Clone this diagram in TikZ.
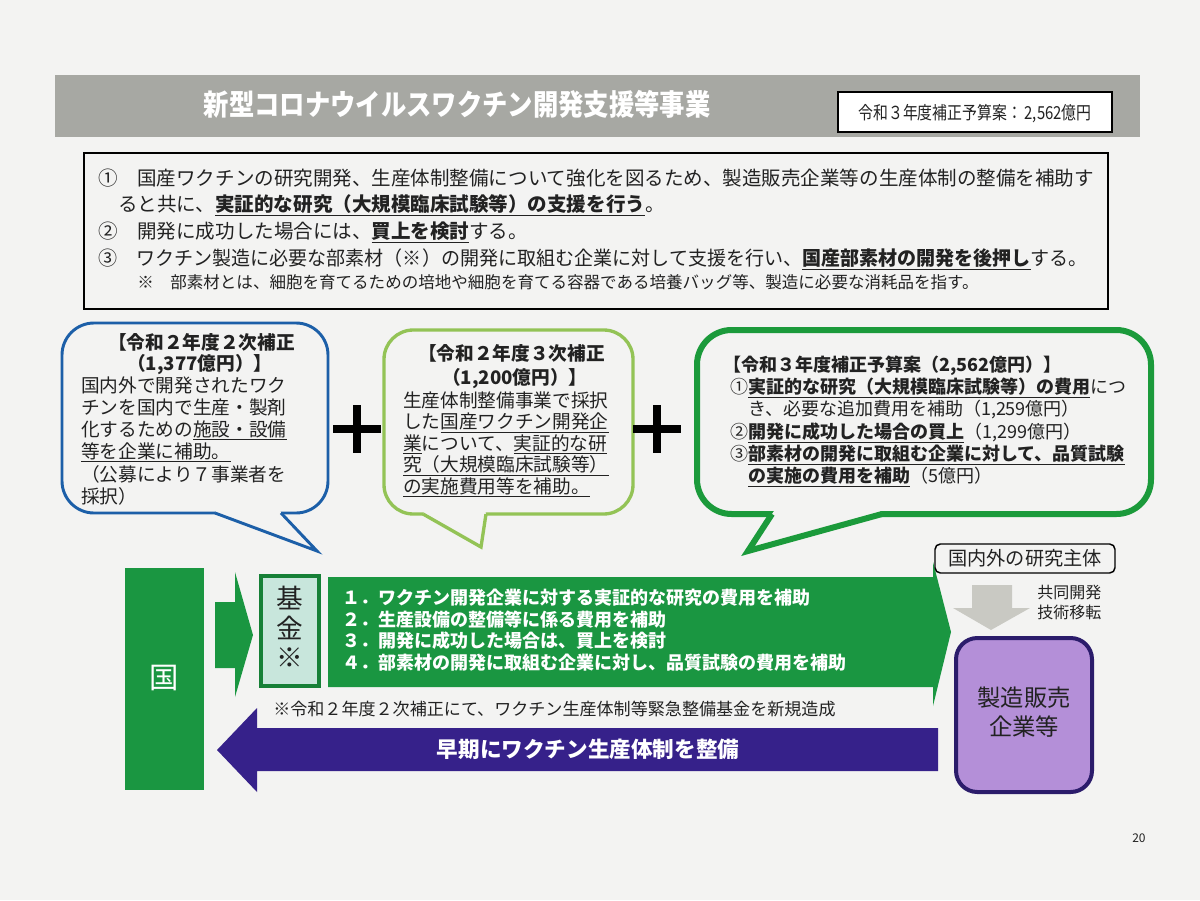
\documentclass[tikz,border=0pt]{standalone}
\usepackage{fontspec}
\setmainfont{Noto Sans CJK JP}
\definecolor{paper}{HTML}{F3F3F2}
\definecolor{titlegray}{HTML}{A7A8A3}
\definecolor{bblue}{HTML}{1C5FA8}
\definecolor{lgreen}{HTML}{93C356}
\definecolor{dgreen}{HTML}{1B9A3B}
\definecolor{agreen}{HTML}{1A9641}
\definecolor{mint}{HTML}{C8E6DC}
\definecolor{indigo}{HTML}{36218A}
\definecolor{lav}{HTML}{B48FD8}
\definecolor{lavdark}{HTML}{2B1C6B}
\definecolor{arrowgray}{HTML}{C9C9C3}
\definecolor{ink}{HTML}{222222}
\newcommand\ulbf[1]{\underline{\textbf{#1}}}
\newcommand\ulnm[1]{\underline{#1}}
\tikzset{
  T/.style={font=\fontsize{#1}{#1}\selectfont, inner sep=0pt, anchor=base west, yshift={-0.38*#1pt}, text=ink},
  TC/.style={T=#1, anchor=base},
  bub/.style={line width=#1, line join=miter},
}
\begin{document}
\begin{tikzpicture}[x=0.75pt,y=-0.75pt]
\useasboundingbox (0,0) rectangle (1200,900);
\fill[paper] (0,0) rectangle (1200,900);

% title bar
\fill[titlegray] (55,75) rectangle (1140,137);
\node[TC=19, text=white] (title) at (457,106) {\scalebox{1}[1.15]{\bfseries 新型コロナウイルスワクチン開発支援等事業}};
\draw[black, line width=1.2pt, fill=white] (838,92) rectangle (1112,132);
\node[TC=12] (budget) at (975,113) {\scalebox{0.93}[1.12]{令和３年度補正予算案：\,2,562億円}};

% top box
\draw[black, line width=1.6pt] (84,153) rectangle (1108,309);
\node[T=14.65] (l1) at (98,178) {①　国産ワクチンの研究開発、生産体制整備について強化を図るため、製造販売企業等の生産体制の整備を補助す};
\node[T=14.65] (l2) at (118,204) {ると共に、\ulbf{実証的な研究（大規模臨床試験等）の支援を行う}。};
\node[T=14.65] (l3) at (98,231) {②　開発に成功した場合には、\ulbf{買上を検討}する。};
\node[T=14.65] (l4) at (98,258) {\scalebox{0.975}[1]{③　ワクチン製造に必要な部素材（※）の開発に取組む企業に対して支援を行い、\ulbf{国産部素材の開発を後押し}する。}};
\node[T=12.4] (l5) at (137,282) {※　部素材とは、細胞を育てるための培地や細胞を育てる容器である培養バッグ等、製造に必要な消耗品を指す。};

% left bubble
\draw[bblue, bub=2.2pt, rounded corners=24pt] (62,323) rectangle (328,513);
\fill[paper] (217,509) -- (280,509) -- (281,513) -- (317,551) -- (215,513) -- cycle;
\draw[bblue, bub=2.2pt] (215,513) -- (317,551) -- (281,513);
\node[T=14] (hb1) at (108,342) {\textbf{【令和２年度２次補正}};
\node[T=14] (hb2) at (127,363) {\textbf{（1,377億円）】}};
\node[T=14] (b1) at (81,385) {国内外で開発されたワク};
\node[T=14] (b2) at (81,407) {チンを国内で生産・製剤};
\node[T=14] (b3) at (81,429) {化するための\ulnm{施設・設備}};
\node[T=14] (b4) at (81,451) {\ulnm{等を企業に補助。}};
\node[T=14] (b5) at (81,474) {（公募により７事業者を};
\node[T=14] (b6) at (81,496) {採択）};

% plus 1
\draw[black, line width=6pt] (333,429) -- (381,429);
\draw[black, line width=6pt] (357,405) -- (357,453);

% middle bubble
\draw[lgreen, bub=2.5pt, rounded corners=22pt] (384,330) rectangle (633,514);
\fill[paper] (425,510) -- (485,510) -- (486,514) -- (481,547) -- (423,514) -- cycle;
\draw[lgreen, bub=2.5pt] (423,514) -- (481,547) -- (486,514);
\node[T=14] (m0) at (418,353) {\textbf{【令和２年度３次補正}};
\node[T=14] (m0b) at (442,377) {\textbf{（1,200億円）】}};
\node[T=14] (m1) at (403,400) {生産体制整備事業で採択};
\node[T=14] (m2) at (403,421.5) {した\ulnm{国産ワクチン開発企}};
\node[T=14] (m3) at (403,443) {\ulnm{業}について、\ulnm{実証的な研}};
\node[T=14] (m4) at (403,464.5) {\ulnm{究（大規模臨床試験等）}};
\node[T=14] (m5) at (403,486) {\ulnm{の実施費用等を補助。}};

% plus 2
\draw[black, line width=6pt] (633,429) -- (681,429);
\draw[black, line width=6pt] (657,405) -- (657,453);

% right bubble
\draw[dgreen, bub=4.5pt, rounded corners=26pt] (697,330) rectangle (1151,514);
\fill[paper] (776,508) -- (878,508) -- (882,514) -- (748,551) -- (772,514) -- cycle;
\draw[dgreen, bub=4.5pt] (772,514) -- (748,551) -- (882,514);
\node[T=13.5] (r0) at (723,365) {\textbf{【令和３年度補正予算案（2,562億円）】}};
\node[T=13.5] (r1) at (730,387) {①\ulbf{実証的な研究（大規模臨床試験等）の費用}につ};
\node[T=13.5] (r2) at (748,409) {き、必要な追加費用を補助（1,259億円）};
\node[T=13.5] (r3) at (730,432) {②\ulbf{開発に成功した場合の買上}（1,299億円）};
\node[T=13.5] (r4) at (730,454) {③\ulbf{部素材の開発に取組む企業に対して、品質試験}};
\node[T=13.5] (r5) at (748,476) {\ulbf{の実施の費用を補助}（5億円）};

% bottom: country
\fill[agreen] (125,568) rectangle (204,790);
\node[TC=22, text=white] (kuni) at (164,677) {国};
\fill[agreen] (215,602) -- (235,602) -- (235,572) -- (253,635) -- (235,697) -- (235,668) -- (215,668) -- cycle;
\draw[agreen!85!black, line width=3pt, fill=mint] (261,576) rectangle (319,686);
\node[TC=20] (ki) at (290,598) {基};
\node[TC=20] (kin) at (290,628) {金};
\node[TC=20] (kome) at (290,657) {※};

% big green arrow
\fill[agreen] (328,577) -- (933,577) -- (933,562) -- (951,632) -- (933,706) -- (933,687) -- (328,687) -- cycle;
\node[T=13.5, text=white] (g1) at (342,598) {\bfseries １．ワクチン開発企業に対する実証的な研究の費用を補助};
\node[T=13.5, text=white] (g2) at (342,620) {\bfseries ２．生産設備の整備等に係る費用を補助};
\node[T=13.5, text=white] (g3) at (342,641) {\bfseries ３．開発に成功した場合は、買上を検討};
\node[T=13.5, text=white] (g4) at (342,663) {\bfseries ４．部素材の開発に取組む企業に対し、品質試験の費用を補助};

\node[T=12.8] (note) at (273,709) {※令和２年度２次補正にて、ワクチン生産体制等緊急整備基金を新規造成};

% purple arrow
\fill[indigo] (938,728) -- (257,728) -- (257,708) -- (217,750) -- (257,792) -- (257,771) -- (938,771) -- cycle;
\node[TC=16.2, text=white] (early) at (588,749) {\bfseries 早期にワクチン生産体制を整備};

% research body and maker
\draw[black, line width=1.1pt, rounded corners=4pt] (935,544) rectangle (1115,573);
\node[TC=14.4] (res) at (1025,558.5) {国内外の研究主体};
\fill[arrowgray] (972,585) -- (1012,585) -- (1012,608) -- (1030,608) -- (991,630) -- (953,608) -- (972,608) -- cycle;
\node[T=12] (kyo) at (1037,592) {共同開発};
\node[T=12] (gij) at (1037,612) {技術移転};
\draw[lavdark, line width=3pt, fill=lav, rounded corners=16pt] (956,638) rectangle (1092,792);
\node[TC=17.5] (mk1) at (1024,698) {製造販売};
\node[TC=17.5] (mk2) at (1024,727) {企業等};

\node[T=9] (pg) at (1132,838) {20};
\end{tikzpicture}
\end{document}
